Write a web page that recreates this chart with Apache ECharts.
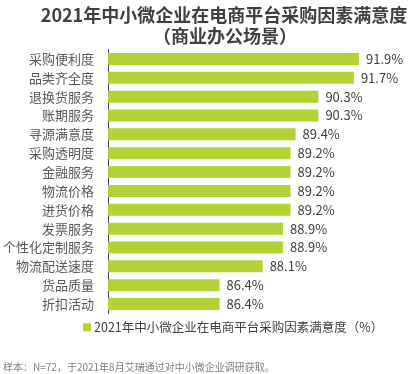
<!DOCTYPE html>
<html><head><meta charset="utf-8">
<script src="https://cdn.jsdelivr.net/npm/echarts@6/dist/echarts.min.js"></script>
<style>html,body{margin:0;padding:0;background:#fff;}#c{width:410px;height:374px;}</style>
</head><body><div id="c"></div>
<script>
const categories = ['采购便利度','品类齐全度','退换货服务','账期服务','寻源满意度','采购透明度','金融服务','物流价格','进货价格','发票服务','个性化定制服务','物流配送速度','货品质量','折扣活动'];
const values = [91.9, 91.7, 90.3, 90.3, 89.4, 89.2, 89.2, 89.2, 89.2, 88.9, 88.9, 88.1, 86.4, 86.4];
const seriesName = '2021年中小微企业在电商平台采购因素满意度（%）';
const titleLines = ['2021年中小微企业在电商平台采购因素满意度', '（商业办公场景）'];
const footnote = '样本：N=72，于2021年8月艾瑞通过对中小微企业调研获取。';

const font = '"Microsoft YaHei","Noto Sans CJK SC",sans-serif';
const chart = echarts.init(document.getElementById('c'), null, {renderer:'canvas'});
chart.setOption({
  animation:false,
  backgroundColor:'#fff',
  title:[
    {text:titleLines[0], left:219, top:1, textAlign:'center',
     textStyle:{fontSize:18, fontWeight:'bold', color:'#3f3f3f', fontFamily:font}},
    {text:titleLines[1], left:220, top:22, textAlign:'center',
     textStyle:{fontSize:18, fontWeight:'bold', color:'#3f3f3f', fontFamily:font}},
    {text:footnote, left:-2, top:357,
     textStyle:{fontSize:10, fontWeight:'normal', color:'#7f7f7f', fontFamily:font}}
  ],
  legend:{
    data:[seriesName], left:78, top:316, itemWidth:8, itemHeight:8, itemGap:4,
    icon:'rect',
    textStyle:{fontSize:12.5, color:'#404040', fontFamily:font, padding:[0,0,0,-2]}
  },
  grid:{left:104.5, top:49.5, width:257, height:264, containLabel:false},
  xAxis:{type:'value', min:82, max:92, show:false},
  yAxis:{type:'category', data:categories, inverse:true,
    axisLine:{show:true, lineStyle:{color:'#404040', width:1}},
    axisTick:{show:false},
    axisLabel:{fontSize:13, color:'#595959', margin:14, fontFamily:font},
    splitLine:{show:false}
  },
  series:[{
    name:seriesName, type:'bar', data:values, barWidth:12,
    itemStyle:{color:'#b2d235'},
    label:{show:true, position:'right', distance:7, fontSize:13, color:'#404040',
      fontFamily:font, formatter:p=>p.value.toFixed(1)+'%'}
  }]
});
</script></body></html>
